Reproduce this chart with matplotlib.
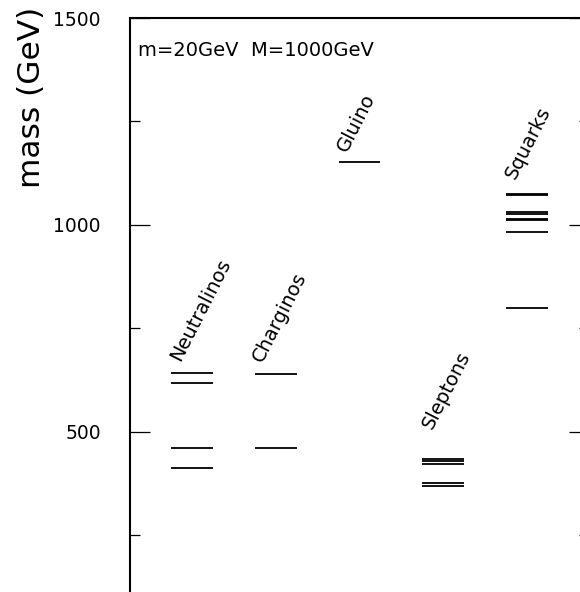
import matplotlib
matplotlib.use("Agg")
import matplotlib.pyplot as plt
from matplotlib.ticker import MultipleLocator

plt.rcParams['font.family'] = ['DejaVu Sans']

# ---- data ----
categories = ["Neutralinos", "Charginos", "Gluino", "Sleptons", "Squarks"]
neutralinos = [642, 618, 461, 412]
charginos = [640, 461]
gluino = [1153]
sleptons = [434, 429, 423, 377, 369]
squarks = [1075, 1072, 1032, 1027, 1014, 1011, 983, 798]
masses = [neutralinos, charginos, gluino, sleptons, squarks]
positions = [1, 2, 3, 4, 5]
yticks_major = [500, 1000, 1500]
note = "m=20GeV  M=1000GeV"

# label offsets (pixels right / up from left end of top level)
label_off = [(9, 11), (8, 11), (8, 9), (10, 29), (9, 14)]

W, H = 580, 592
fig = plt.figure(figsize=(W / 100, H / 100), dpi=100)
left = 130 / W
right = 589 / W
top = 1 - 18 / H
bottom = 1 - 638.6 / H
ax = fig.add_axes([left, bottom, right - left, top - bottom])
ax.set_xlim(0.26, 5.74)
ax.set_ylim(0, 1500)

hw = 0.25
for x, ms in zip(positions, masses):
    for m in ms:
        ax.plot([x - hw, x + hw], [m, m], color='black', lw=1.3,
                solid_capstyle='butt')

for x, ms, name, (dx, dy) in zip(positions, masses, categories, label_off):
    ax.annotate(name, xy=(x - hw, max(ms)), xytext=(dx * 0.72, dy * 0.72),
                textcoords='offset points', rotation=63,
                rotation_mode='anchor', ha='left', va='baseline',
                fontsize=14, color='black')

ax.text(138 / W, 1 - 50 / H, note, transform=fig.transFigure,
        ha='left', va='center', fontsize=14, color='black')

ax.set_yticks(yticks_major)
ax.yaxis.set_minor_locator(MultipleLocator(250))
ax.set_yticklabels([str(v) for v in yticks_major])
ax.tick_params(axis='y', which='major', direction='in', length=14.4,
               width=0.9, labelsize=13.5, pad=21, right=True, left=True)
ax.tick_params(axis='y', which='minor', direction='in', length=7.2,
               width=0.9, right=True, left=True)
ax.set_xticks([])
for s in ax.spines.values():
    s.set_linewidth(1.5)

fig.text(32 / W, 1 - 97 / H, "mass (GeV)", rotation=90, ha='center',
         va='center', fontsize=22.5, color='black')

fig.savefig("out.png", dpi=100)
